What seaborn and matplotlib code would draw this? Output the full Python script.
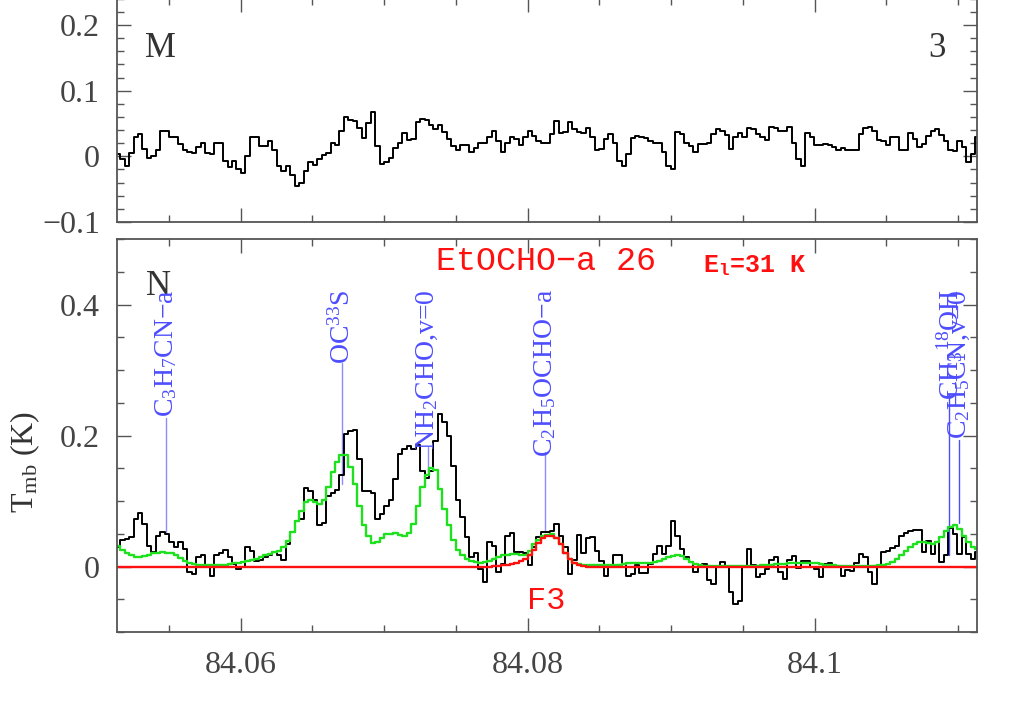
import numpy as np
import matplotlib
matplotlib.use("Agg")
import matplotlib.pyplot as plt
from matplotlib.ticker import MultipleLocator
import seaborn as sns

# channel grid (GHz): first channel centre and channel width
F0 = 84.05145
DF = 0.000312

# top panel (M 3): observed spectrum, K
top_obs = [
    0.004, -0.004, -0.015, 0.005, 0.029, 0.034, 0.011, -0.002, 0.001, 0.009,
    0.039, 0.038, 0.029, 0.029, 0.019, 0.009, 0.006, 0.005, 0.014, 0.021,
    0.005, 0.004, 0.020, 0.020, -0.007, -0.016, -0.007, -0.019, -0.026, 0.001,
    0.029, 0.029, 0.016, 0.016, 0.023, 0.010, -0.014, -0.022, -0.015, -0.029,
    -0.045, -0.041, -0.022, -0.008, -0.013, -0.004, 0.002, 0.005, 0.020, 0.017,
    0.039, 0.060, 0.055, 0.054, 0.043, 0.028, 0.051, 0.068, 0.016, -0.012,
    -0.008, -0.003, 0.012, 0.021, 0.036, 0.025, 0.026, 0.052, 0.057, 0.056,
    0.048, 0.041, 0.048, 0.037, 0.027, 0.016, 0.009, 0.018, 0.017, 0.007,
    0.012, 0.021, 0.020, 0.030, 0.038, 0.024, 0.007, 0.021, 0.030, 0.027,
    0.017, 0.029, 0.039, 0.031, 0.023,
    0.021, 0.021, 0.034, 0.054, 0.035, 0.037, 0.052, 0.042, 0.037, 0.036,
    0.043, 0.029, 0.009, 0.011, 0.027, 0.034, 0.021, -0.007, -0.015, 0.004,
    0.028, 0.031, 0.029, 0.028, 0.023, 0.020, 0.021, 0.006, -0.014, -0.019,
    0.037, 0.034, 0.021, 0.016, 0.006, 0.019, 0.019, 0.020, 0.034, 0.042,
    0.039, 0.032, 0.011, 0.029, 0.035, 0.030, 0.043, 0.041, 0.034, 0.029,
    0.025, 0.044, 0.043, 0.038, 0.038, 0.045, 0.021, -0.004, -0.015, 0.036,
    0.029, 0.018, 0.017, 0.019, 0.018, 0.014, 0.010, 0.012, 0.010, 0.010,
    0.010, 0.034, 0.043, 0.044, 0.038, 0.025, 0.024, 0.018, 0.030, 0.030,
    0.009, 0.010, 0.035, 0.027, 0.014, 0.019, 0.031, 0.039, 0.042, 0.033,
    0.024, 0.009, 0.008, 0.024, 0.014, -0.009, 0.004, 0.029,
]

# bottom panel (N): observed spectrum, K
bot_obs = [
    0.030, 0.041, 0.042, 0.045, 0.073, 0.081, 0.065, 0.032, 0.022, 0.046,
    0.052, 0.050, 0.037, 0.030, 0.037, 0.027, -0.009, -0.011, 0.014, 0.018,
    0.002, -0.014, 0.017, 0.020, 0.025, 0.014, 0.004, -0.003, -0.001, 0.030,
    0.023, 0.009, 0.010, 0.015, 0.018, 0.022, 0.018, 0.010, 0.035, 0.052,
    0.070, 0.073, 0.120, 0.116, 0.101, 0.063, 0.066, 0.108, 0.113, 0.117,
    0.139, 0.203, 0.207, 0.209, 0.164, 0.116, 0.116, 0.112, 0.073, 0.080,
    0.092, 0.102, 0.134, 0.172, 0.179, 0.184, 0.180, 0.185, 0.146, 0.135,
    0.146, 0.192, 0.233, 0.220, 0.200, 0.154, 0.101, 0.075, 0.045, 0.014,
    0.020, -0.004, -0.024, 0.037, 0.031, -0.009, 0.004, 0.047, 0.051, 0.022,
    0.022, 0.020, 0.003, 0.030, 0.045, 0.052, 0.053, 0.055, 0.065, 0.047,
    0.030, -0.012, 0.010, 0.048, 0.020, 0.044, 0.045, 0.024, 0.009, -0.015,
    0.002, 0.017, 0.017, 0.004, -0.015, -0.011, 0.003, -0.010, -0.010, 0.004,
    0.019, 0.031, 0.019, 0.032, 0.070, 0.046, 0.027, 0.014, 0.007, -0.009,
    -0.001, 0.004, -0.021, -0.026, -0.001, 0.007, -0.001, -0.039, -0.057, -0.052,
    0.000, 0.027, 0.002, -0.016, -0.011, -0.004, 0.010, 0.014, -0.009, -0.019,
    0.010, 0.016, -0.002, 0.009, 0.008, 0.000, -0.004, -0.016, 0.004, 0.005,
    0.003, 0.001, -0.014, -0.006, -0.007, 0.005, 0.019, 0.014, -0.009, -0.026,
    0.003, 0.022, 0.023, 0.028, 0.031, 0.047, 0.051, 0.055, 0.056, 0.056,
    0.022, 0.039, 0.019, 0.037, 0.007, 0.018, 0.059, 0.049, 0.019, 0.045,
    0.019, 0.012, 0.022,
]

# bottom panel: full model (green)
bot_model_all = [
    0.031, 0.025, 0.020, 0.017, 0.015, 0.015, 0.016, 0.018, 0.020, 0.021,
    0.022, 0.021, 0.020, 0.017, 0.013, 0.009, 0.006, 0.004, 0.003, 0.003,
    0.003, 0.003, 0.003, 0.003, 0.003, 0.004, 0.005, 0.006, 0.007, 0.008,
    0.010, 0.012, 0.014, 0.017, 0.019, 0.022, 0.024, 0.030, 0.039, 0.052,
    0.070, 0.085, 0.098, 0.102, 0.099, 0.095, 0.101, 0.121, 0.144, 0.159,
    0.171, 0.171, 0.152, 0.126, 0.092, 0.064, 0.047, 0.036, 0.037, 0.044,
    0.049, 0.050, 0.051, 0.048, 0.046, 0.051, 0.065, 0.092, 0.122, 0.139,
    0.150, 0.147, 0.119, 0.088, 0.063, 0.040, 0.025, 0.018, 0.012, 0.008,
    0.007, 0.006, 0.007, 0.009, 0.012, 0.014, 0.017, 0.018, 0.019, 0.019,
    0.018, 0.018, 0.024, 0.034, 0.041, 0.046, 0.048, 0.049, 0.044, 0.034,
    0.020, 0.012, 0.006, 0.004, 0.003, 0.003, 0.003, 0.003, 0.003, 0.003,
    0.003, 0.003, 0.003, 0.004, 0.005, 0.006, 0.006, 0.005, 0.005, 0.005,
    0.007, 0.009, 0.012, 0.014, 0.016, 0.017, 0.016, 0.012, 0.007, 0.004,
    0.002, 0.001, 0.001, 0.001, 0.001, 0.001, 0.001, 0.001, 0.001, 0.001,
    0.001, 0.001, 0.001, 0.001, 0.002, 0.003, 0.003, 0.004, 0.004, 0.004,
    0.005, 0.005, 0.006, 0.006, 0.006, 0.006, 0.005, 0.004, 0.003, 0.002,
    0.002, 0.001, 0.001, 0.001, 0.001, 0.001, 0.001, 0.001, 0.001, 0.001,
    0.002, 0.003, 0.004, 0.007, 0.012, 0.017, 0.023, 0.030, 0.035, 0.037,
    0.037, 0.036, 0.035, 0.037, 0.045, 0.054, 0.061, 0.063, 0.058, 0.047,
    0.037, 0.030, 0.027,
]

# bottom panel: EtOCHO-a model (red), non-zero channels 84..105
red_first = 84
red_bump = [0.000, 0.0005, 0.001, 0.002, 0.003, 0.004, 0.006, 0.008, 0.012, 0.017,
            0.025, 0.036, 0.043, 0.047, 0.047, 0.043, 0.034, 0.020, 0.012, 0.005,
            0.002, 0.001]

# line identifications: label, frequency, spectrum level, label foot
line_names = ["C$_3$H$_7$CN\u2212a", "OC$^{33}$S", "NH$_2$CHO,v=0",
              "C$_2$H$_5$OCHO\u2212a", "CH$_3$$^{18}$OH", "C$_2$H$_5$CN,v=0"]
line_freq = [84.05479, 84.06709, 84.07305, 84.08122, 84.10940, 84.11007]
line_low = [0.052, 0.126, 0.146, 0.055, 0.017, 0.066]
line_high = [0.227, 0.311, 0.182, 0.175, 0.262, 0.193]
line_col = ["#8c8cff", "#8c8cff", "#8c8cff", "#8c8cff", "#4d4dff", "#4d4dff"]

n = len(bot_obs)
freq = F0 + DF * np.arange(n)
red_model = np.zeros(n)
red_model[red_first - 1:red_first - 1 + len(red_bump)] = red_bump

sns.set_style("ticks")
plt.rcParams["font.family"] = ["Liberation Serif", "DejaVu Serif"]
plt.rcParams["mathtext.fontset"] = "custom"
plt.rcParams["mathtext.rm"] = "Liberation Serif"
plt.rcParams["mathtext.it"] = "Liberation Serif:italic"

fig = plt.figure(figsize=(10.25, 7.17), dpi=100)
ax1 = fig.add_axes([0.1137, 0.6904, 0.8395, 0.3124])
ax2 = fig.add_axes([0.1137, 0.1185, 0.8395, 0.5481])

xlo, xhi = 84.05136, 84.11132
frame = "#555555"

sns.lineplot(x=freq, y=top_obs, ax=ax1, color="black", linewidth=1.4,
             drawstyle="steps-mid")
sns.lineplot(x=freq, y=bot_obs, ax=ax2, color="black", linewidth=1.4,
             drawstyle="steps-mid")
sns.lineplot(x=freq, y=bot_model_all, ax=ax2, color="#1ee01e", linewidth=1.7,
             drawstyle="steps-mid")
sns.lineplot(x=freq, y=red_model, ax=ax2, color="#ff1010", linewidth=1.7,
             drawstyle="steps-mid")

for ax in (ax1, ax2):
    ax.set_xlim(xlo, xhi)
    ax.set_xlabel("")
    ax.set_ylabel("")
    for sp in ax.spines.values():
        sp.set_visible(True)
        sp.set_color(frame)
        sp.set_linewidth(1.3)
    ax.xaxis.set_minor_locator(MultipleLocator(0.005))
    ax.tick_params(which="both", direction="in", top=True, right=True,
                   color=frame, width=1.0, labelsize=23, labelcolor="#444444")
    ax.tick_params(which="major", length=10)
    ax.tick_params(which="minor", length=5)
    ax.tick_params(axis="y", pad=12)
    ax.tick_params(axis="x", pad=14)

ax1.set_ylim(-0.1, 0.2413)
ax1.set_yticks([-0.1, 0, 0.1, 0.2], labels=["\u22120.1", "0", "0.1", "0.2"])
ax1.yaxis.set_minor_locator(MultipleLocator(0.02))
ax1.set_xticks([84.06, 84.08, 84.1])
ax1.tick_params(axis="x", labelbottom=False)

ax2.set_ylim(-0.1, 0.5)
ax2.set_yticks([0, 0.2, 0.4], labels=["0", "0.2", "0.4"])
ax2.yaxis.set_minor_locator(MultipleLocator(0.05))
ax2.set_xticks([84.06, 84.08, 84.1], labels=["84.06", "84.08", "84.1"])

# panel tags
ax1.text(84.05439, 0.165, "M", fontsize=25, color="#333333", ha="center", va="center")
ax1.text(84.10854, 0.165, "3", fontsize=25, color="#333333", ha="center", va="center")
ax2.text(84.05425, 0.427, "N", fontsize=25, color="#333333", ha="center", va="center")

# line markers and labels
for name, f, lo, hi, c in zip(line_names, line_freq, line_low, line_high, line_col):
    ax2.plot([f, f], [lo, hi], color=c, linewidth=1.0, zorder=1)
    ax2.text(f, 0.423, name, rotation=90, ha="center", va="top",
             fontsize=20, color="#4d4dff")

# red annotations
mono = ["Liberation Mono", "DejaVu Sans Mono"]
ax2.text(84.08129, 0.466, "EtOCHO\u2212a 26", family=mono, fontsize=24,
         color="#ff1010", ha="center", va="center")
ax2.text(84.09585, 0.459, "E$_\\mathregular{l}$=31 K", family=mono, fontsize=18,
         color="#ff1010", ha="center", va="center", fontweight="bold")
ax2.text(84.0813, -0.053, "F3", family=mono, fontsize=23,
         color="#ff1010", ha="center", va="center")

fig.text(0.0244, 0.3556, "T$_\\mathregular{mb}$ (K)", rotation=90, fontsize=23,
         color="#333333", ha="center", va="center")

fig.savefig("out.png", dpi=100)
